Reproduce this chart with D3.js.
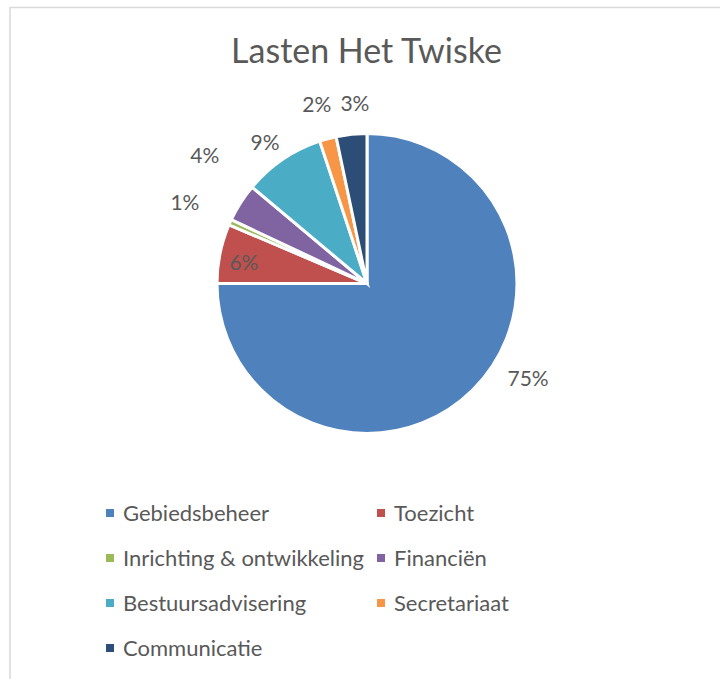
<!DOCTYPE html>
<html>
<head>
<meta charset="utf-8">
<script src="https://cdn.jsdelivr.net/npm/d3@7"></script>
<style>
  body { margin: 0; background: #fff; }
  text { font-family: Lato, "Liberation Sans", sans-serif; fill: #595959; }
</style>
</head>
<body>
<div id="chart"></div>
<script>
// data
const categories = ["Gebiedsbeheer", "Toezicht", "Inrichting & ontwikkeling", "Financiën",
    "Bestuursadvisering", "Secretariaat", "Communicatie"];
const values = [75.0, 6.4, 0.6, 4.1, 8.8, 1.8, 3.3];
const colors = ["#4F81BD", "#C0504D", "#9BBB59", "#8064A2", "#4BACC6", "#F79646", "#2C4D75"];
const title = "Lasten Het Twiske";

// label placement (angle shift in degrees from slice middle, distance as factor of radius)
const labelShift = [-14.6, -1.6, 0, 5.8, -1.6, -0.5, 2.1];
const labelDist = [1.245, 0.833, 1.33, 1.379, 1.163, 1.242, 1.206];

const width = 720, height = 679;
const cx = 367, cy = 283.5, radius = 150;

const svg = d3.select("#chart").append("svg")
    .attr("width", width).attr("height", height);

// chart frame
svg.append("rect")
    .attr("x", 10).attr("y", 7.5)
    .attr("width", width).attr("height", height)
    .attr("fill", "#fff").attr("stroke", "#D9D9D9").attr("stroke-width", 1.5);

svg.append("text")
    .attr("x", 366.5).attr("y", 63)
    .attr("text-anchor", "middle")
    .style("font-size", "34px")
    .text(title);

const slices = categories.map((c, i) => ({name: c, value: values[i], idx: i}));
const total = d3.sum(values);

const pie = d3.pie().sort(null).value(d => d.value);
const arc = d3.arc().innerRadius(0).outerRadius(radius);
const arcs = pie(slices);

const g = svg.append("g").attr("transform", `translate(${cx},${cy})`);

g.selectAll("path").data(arcs).join("path")
    .attr("d", arc)
    .attr("fill", d => colors[d.data.idx])
    .attr("stroke", "#fff")
    .attr("stroke-width", 3)
    .attr("stroke-linejoin", "miter");

g.selectAll("text.pct").data(arcs).join("text")
    .attr("class", "pct")
    .attr("text-anchor", "middle")
    .attr("dy", "0.36em")
    .style("font-size", "21px")
    .attr("x", d => {
        const a = (d.startAngle + d.endAngle) / 2 + labelShift[d.data.idx] * Math.PI / 180;
        return Math.sin(a) * radius * labelDist[d.data.idx];
    })
    .attr("y", d => {
        const a = (d.startAngle + d.endAngle) / 2 + labelShift[d.data.idx] * Math.PI / 180;
        return -Math.cos(a) * radius * labelDist[d.data.idx];
    })
    .text(d => Math.round(d.data.value / total * 100) + "%");

// legend, two columns
const colX = [106, 377];
const rowY = d3.scaleLinear().domain([0, 1]).range([513, 558]);

const leg = svg.append("g").selectAll("g").data(slices).join("g")
    .attr("transform", (d, i) => `translate(${colX[i % 2]},${rowY(Math.floor(i / 2))})`);

leg.append("rect")
    .attr("x", 0).attr("y", -4)
    .attr("width", 8).attr("height", 8)
    .attr("fill", d => colors[d.idx]);

leg.append("text")
    .attr("x", 17).attr("dy", "0.36em")
    .style("font-size", "22px")
    .text(d => d.name);
</script>
</body>
</html>
